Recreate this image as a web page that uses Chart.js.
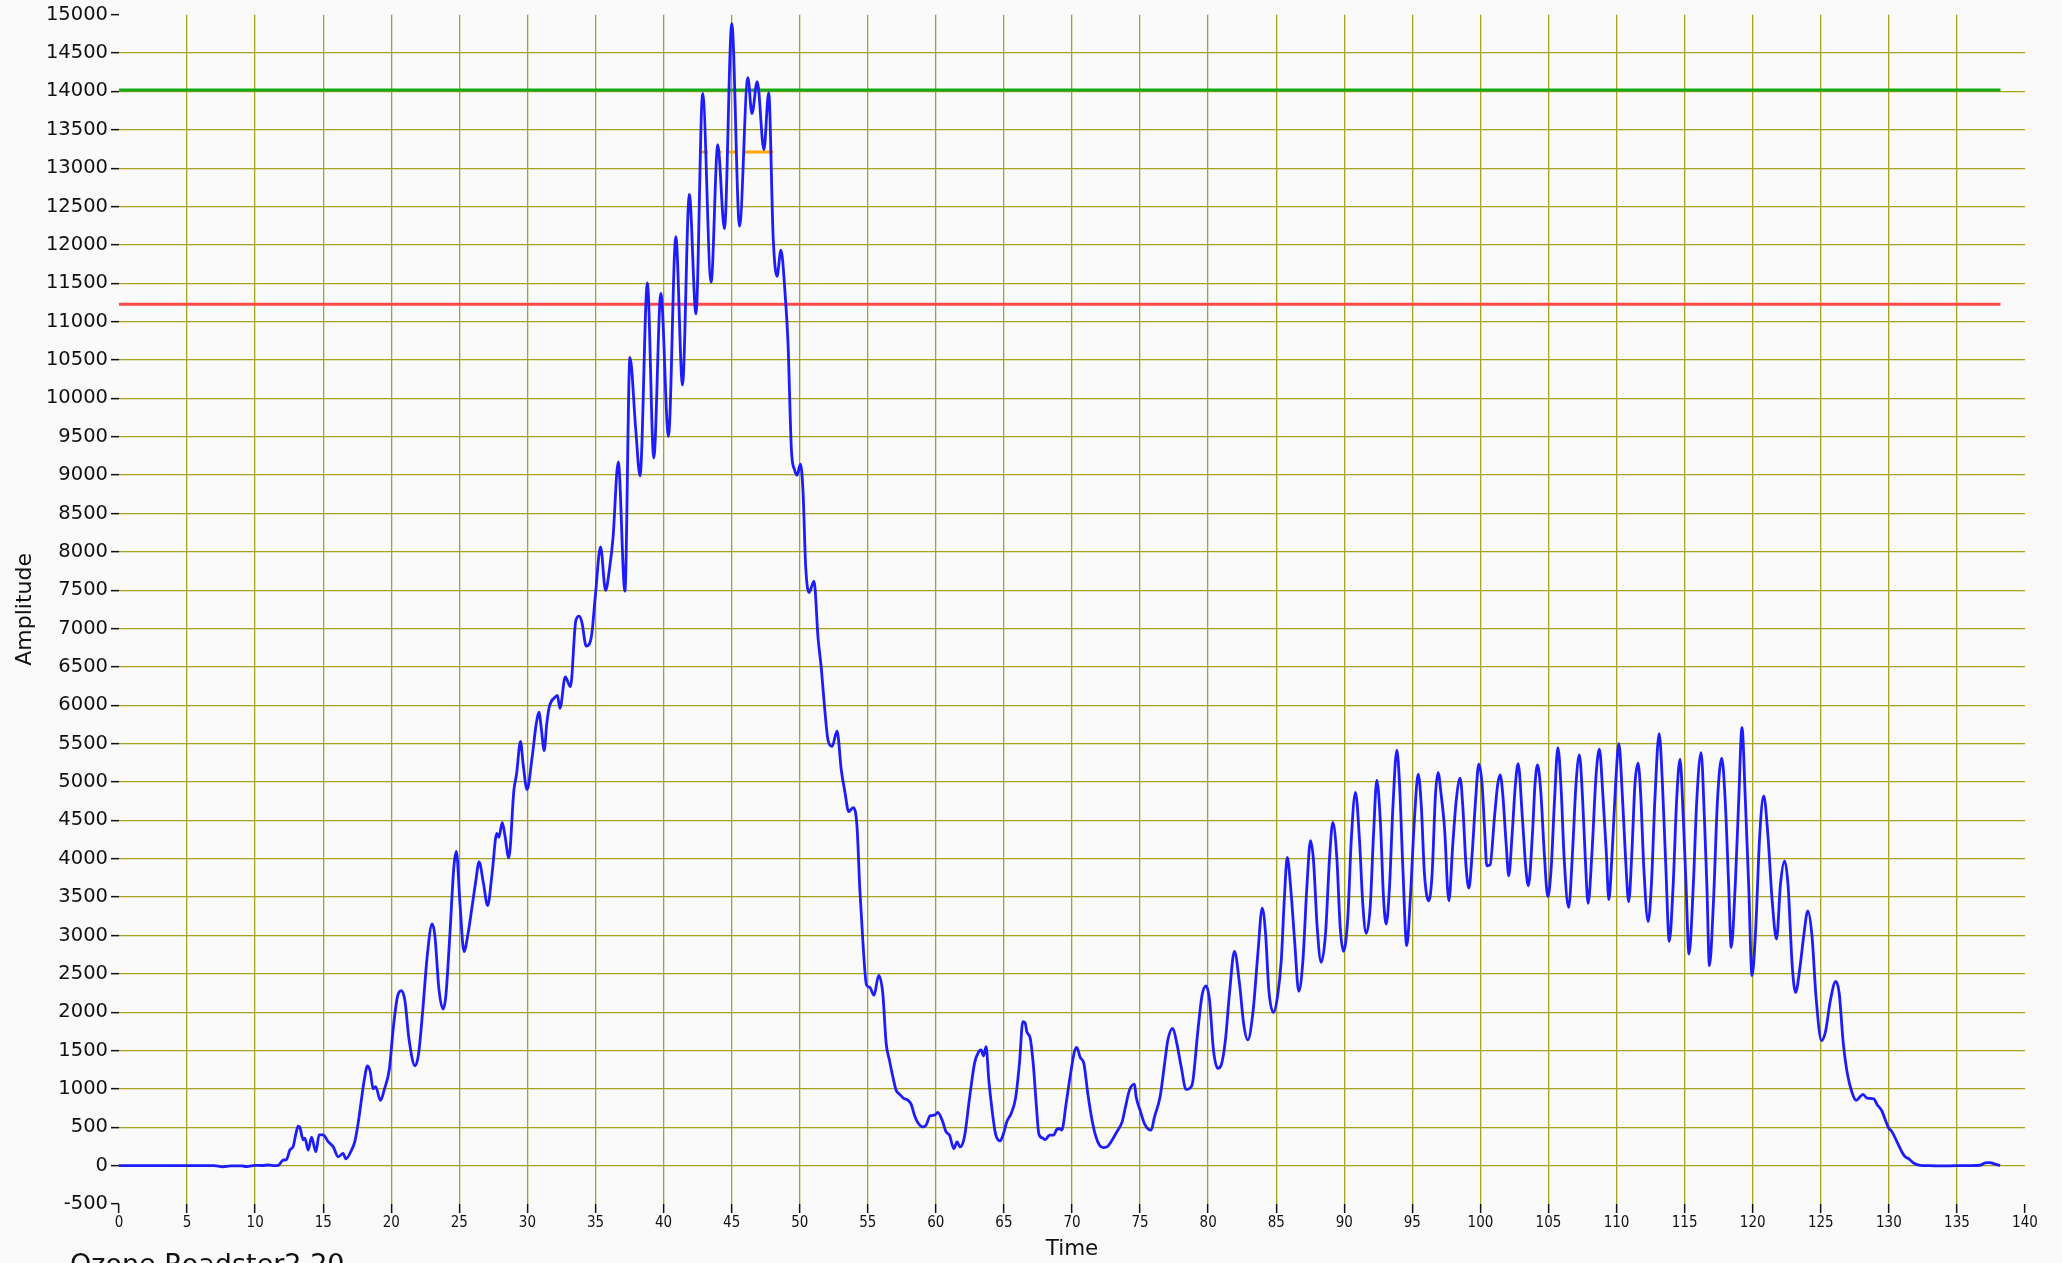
<!DOCTYPE html>
<html>
<head>
<meta charset="utf-8">
<script src="https://cdn.jsdelivr.net/npm/chart.js@4.4.1/dist/chart.umd.min.js"></script>
<style>
html,body{margin:0;padding:0;background:#fafafa;overflow:hidden}
canvas{display:block}
</style>
</head>
<body>
<canvas id="c" width="2062" height="1263"></canvas>
<script>
// ---- Data ----
const times = [
  0,1,2,3,4,5,6,7,7.6,8.2,9,9.4,10,10.5,11,11.4,11.7,
  12.05,12.3,12.55,12.79,13.0,13.16,13.28,13.53,13.65,13.9,
  14.14,14.46,14.7,15.0,15.36,15.73,16.1,16.46,16.66,17.08,
  17.32,17.57,17.81,
  18.0,18.25,18.45,18.67,18.85,19.2,19.5,19.85,20.15,20.45,
  20.75,21.0,21.3,21.75,22.0,22.3,22.65,23.0,23.2,23.5,
  23.8,24.0,24.3,24.6,24.78,25.05,25.34,
  25.63,25.92,26.2,26.45,26.75,27.08,27.4,27.75,27.9,28.15,
  28.35,28.63,29.01,29.2,29.49,29.68,29.97,30.35,30.64,30.84,
  31.03,31.23,31.42,31.62,32.0,32.2,32.39,32.78,33.16,33.55,
  33.8,34.0,34.32,34.71,35.0,35.37,
  35.74,36.03,36.28,36.67,37.16,37.53,37.95,38.27,38.81,39.28,
  39.8,40.36,40.9,41.39,41.89,42.38,42.87,43.49,43.98,44.47,
  45.01,45.58,46.19,46.49,46.88,47.37,47.72,48.05,48.33,48.62,
  48.95,49.14,49.39,49.63,49.8,50.05,50.24,50.44,50.69,51.05,
  51.35,51.59,51.84,52.08,52.38,52.74,53.06,53.31,53.6,53.92,
  54.21,54.41,54.65,54.9,55.14,55.46,55.8,56.1,
  56.35,56.59,56.84,57.08,57.33,57.64,57.94,58.18,58.43,58.67,
  59.04,59.28,59.58,59.9,60.14,60.46,60.75,61.0,61.32,61.56,
  61.78,62.1,62.47,62.84,63.15,63.33,63.5,63.69,63.89,64.13,
  64.38,64.72,64.97,65.21,65.53,65.85,66.14,66.39,66.56,66.68,
  66.93,67.17,67.37,67.56,67.81,68.05,
  68.35,68.64,68.88,69.08,69.25,69.57,69.86,70.18,70.35,70.6,
  70.87,71.16,71.45,71.72,72.02,72.31,72.63,72.94,73.29,73.68,
  73.93,74.22,74.59,74.71,75.0,75.32,75.81,76.06,76.47,76.79,
  77.04,77.4,77.7,78.02,78.38,78.63,78.87,79.24,79.56,79.85,
  80.1,80.39,80.71,80.96,81.27,81.57,81.93,82.3,82.62,82.91,
  83.29,83.65,83.97,84.22,84.46,84.8,
  85.12,85.37,85.59,85.81,86.1,86.35,86.66,86.96,87.25,87.52,
  87.74,88.01,88.3,88.62,88.92,89.16,89.45,89.7,89.94,90.26,
  90.51,90.82,91.12,91.36,91.61,91.9,92.15,92.39,92.66,92.88,
  93.08,93.32,93.57,93.86,94.06,94.3,94.59,94.84,95.16,95.43,
  95.65,95.89,96.21,96.45,96.7,96.89,97.11,97.36,97.68,97.97,
  98.22,98.51,98.71,98.95,99.15,99.39,99.64,99.88,100.12,100.3,
  100.47,100.71,101.03,101.27,101.45,101.64,101.89,102.08,102.33,102.57,
  102.77,103.08,103.33,103.52,
  103.82,104.01,104.19,104.43,104.68,104.95,105.2,105.44,105.69,105.91,
  106.16,106.48,106.77,107.02,107.27,107.51,107.71,107.91,108.2,108.5,
  108.74,108.99,109.24,109.43,109.68,109.93,110.17,110.42,110.67,110.89,
  111.13,111.35,111.58,111.77,112.0,112.32,112.56,112.81,113.13,113.37,
  113.62,113.87,114.16,114.41,114.66,114.9,115.1,115.32,115.64,115.89,
  116.21,116.45,116.63,116.82,117.12,117.41,117.73,117.98,118.23,118.42,
  118.72,118.97,119.21,119.46,119.7,119.95,120.2,120.52,120.81,121.11,
  121.43,121.75,122.04,122.34,122.59,122.91,123.15,123.47,
  123.75,124.05,124.35,124.65,125.05,125.35,125.7,126.1,126.35,126.65,
  126.95,127.3,127.6,127.9,128.1,128.4,128.9,129.12,129.49,129.73,
  129.98,130.22,130.59,130.95,131.2,131.44,131.81,132.3,133,134,
  135,136,136.7,137.07,137.43,137.68,138.17
];
const amplitude = [
  0,0,0,0,0,0,0,0,-15,-3,-4,-12,4,2,8,0,4,
  71,80,203,248,420,513,500,336,358,203,
  371,181,402,402,314,248,115,159,88,203,
  314,557,866,
  1100,1300,1230,1000,1030,850,1000,1250,1800,2200,
  2280,2150,1650,1300,1450,2000,2750,3150,3000,2300,
  2040,2200,3000,3900,4095,3400,2790,
  3016,3358,3700,3960,3700,3390,3800,4330,4280,4470,
  4300,4010,4900,5100,5530,5240,4900,5330,5750,5910,
  5680,5410,5760,5990,6100,6130,5960,6370,6240,7100,
  7160,7080,6770,6910,7450,8064,
  7497,7781,8167,9171,7487,10535,9608,8990,11503,9222,
  11369,9505,12106,10175,12657,11102,13975,11514,13305,12209,
  14886,12245,14181,13712,14129,13238,13985,12100,11590,11930,
  11300,10723,9329,9063,8997,9143,8798,7802,7470,7616,
  6872,6474,5942,5544,5464,5663,5146,4880,4614,4667,
  4415,3618,2888,2357,2324,2220,2480,2247,
  1594,1376,1159,984,932,876,854,802,658,562,
  505,527,649,658,693,593,440,397,222,309,
  244,375,876,1333,1485,1507,1429,1551,1115,723,
  418,322,418,571,680,876,1333,1877,1860,1747,
  1659,1289,810,418,362,340,
  397,397,471,484,462,810,1159,1485,1542,1411,
  1333,941,614,397,266,235,253,331,440,571,
  767,984,1063,897,723,549,462,636,897,1311,
  1638,1790,1594,1289,993,1006,1093,1747,2226,2343,
  2160,1507,1268,1311,1638,2247,2792,2378,1834,1638,
  1998,2758,3357,3018,2281,1998,
  2237,2671,3452,4017,3539,2932,2272,2671,3626,4234,
  3973,3105,2650,3018,4017,4472,4017,3105,2793,3235,
  4234,4863,4234,3409,3027,3365,4321,5024,4451,3496,
  3149,3626,4668,5414,4971,3886,2867,3452,4537,5102,
  4711,3800,3452,3800,4841,5123,4841,4407,3452,4190,
  4755,5050,4668,3886,3617,4060,4755,5232,4971,4407,
  3908,3921,4537,4971,5093,4841,4190,3778,4321,4971,
  5240,4537,3886,3648,
  4321,4971,5223,4885,4103,3505,3886,4755,5449,4971,
  3973,3366,4103,4971,5353,4755,3973,3418,4103,5102,
  5427,4841,4103,3466,4103,4971,5501,4841,3973,3439,
  4103,4971,5245,4841,3886,3179,3669,4755,5631,4971,
  3886,2923,3669,4755,5297,4537,3669,2758,3669,4755,
  5384,4537,3669,2606,3452,4755,5310,4755,3669,2845,
  3669,4755,5709,4755,3669,2476,3018,4321,4820,4321,
  3452,2953,3669,3973,3669,2584,2259,2584,
  3000,3320,3000,2200,1630,1750,2150,2400,2250,1600,
  1200,950,850,900,930,880,870,800,712,601,
  490,446,314,181,115,93,35,4,0,-4,
  0,0,5,35,40,27,0
];

// Horizontal reference levels
const levelStart = 0;
const levelEnd = 138.2;
const greenLevel = 14020;
const redLevel = 11225;

// Orange marker segments (null = gap)
const orangeTimes  = [42.66, 43.27, 43.5, 43.89, 44.25, 44.4, 44.62, 45.36, 45.6, 45.97, 48.05];
const orangeValues = [13210, 13210, null, 13210, 13210, null, 13210, 13210, null, 13210, 13210];

// Axes
const xMin = 0, xMax = 140, xStep = 5;
const yMin = -500, yMax = 15000, yStep = 500;
const xTitle = 'Time';
const yTitle = 'Amplitude';
const footerText = 'Ozone Roadster2 20';

// ---- Build datasets ----
const n = Math.min(times.length, amplitude.length);
const mainData = [];
for (let i = 0; i < n; i++) mainData.push({x: times[i], y: amplitude[i]});
const orangeData = orangeTimes.map((t, i) => ({x: t, y: orangeValues[i]}));
const greenData = [{x: levelStart, y: greenLevel}, {x: levelEnd, y: greenLevel}];
const redData = [{x: levelStart, y: redLevel}, {x: levelEnd, y: redLevel}];

const GRID = 'rgb(168,163,30)';
function gridColor(ctx) {
  const ticks = ctx.scale.ticks;
  if (ctx.index === 0 || ctx.index === ticks.length - 1) return 'rgba(0,0,0,0)';
  return GRID;
}

const footerPlugin = {
  id: 'footerText',
  afterDraw(chart) {
    const c = chart.ctx;
    c.save();
    c.font = '27px "DejaVu Sans"';
    c.fillStyle = '#111';
    c.textAlign = 'left';
    c.textBaseline = 'alphabetic';
    c.fillText(footerText, 70, 1273);
    c.restore();
  }
};

new Chart(document.getElementById('c'), {
  type: 'line',
  data: {
    datasets: [
      {data: mainData, borderColor: 'rgb(28,28,255)', borderWidth: 2.8, pointRadius: 0,
       cubicInterpolationMode: 'monotone', fill: false},
      {data: greenData, borderColor: 'rgb(20,170,20)', borderWidth: 3, pointRadius: 0, fill: false},
      {data: redData, borderColor: 'rgb(255,72,72)', borderWidth: 3, pointRadius: 0, fill: false},
      {data: orangeData, borderColor: 'rgb(255,165,0)', borderWidth: 3, pointRadius: 0, fill: false, spanGaps: false}
    ]
  },
  options: {
    responsive: false,
    animation: false,
    events: [],
    layout: {padding: {top: 13, right: 37, left: 0, bottom: 0}},
    plugins: {legend: {display: false}, tooltip: {enabled: false}, title: {display: false}},
    scales: {
      x: {
        type: 'linear', min: xMin, max: xMax,
        afterFit(s) { s.height = 59; },
        border: {display: false},
        grid: {color: gridColor, lineWidth: 1.3, tickColor: '#111', tickWidth: 1.5, tickLength: 9},
        ticks: {stepSize: xStep, autoSkip: false, maxRotation: 0, padding: 1, color: '#111',
                callback: v => String(v),
                font: {family: '"DejaVu Sans Condensed", "DejaVu Sans"', size: 15}},
        title: {display: true, text: xTitle, color: '#111', padding: {top: 0, bottom: 1},
                font: {family: '"DejaVu Sans"', size: 21.5}}
      },
      y: {
        type: 'linear', min: yMin, max: yMax,
        afterFit(s) { s.width = 119; },
        border: {display: false},
        grid: {color: gridColor, lineWidth: 1.3, tickColor: '#111', tickWidth: 1.5, tickLength: 8},
        ticks: {stepSize: yStep, autoSkip: false, padding: 3, color: '#111',
                callback: v => String(v),
                font: {family: '"DejaVu Sans"', size: 19.5}},
        title: {display: true, text: yTitle, color: '#111', padding: {top: 12, bottom: 0},
                font: {family: '"DejaVu Sans"', size: 22}}
      }
    }
  },
  plugins: [footerPlugin]
});
</script>
</body>
</html>
